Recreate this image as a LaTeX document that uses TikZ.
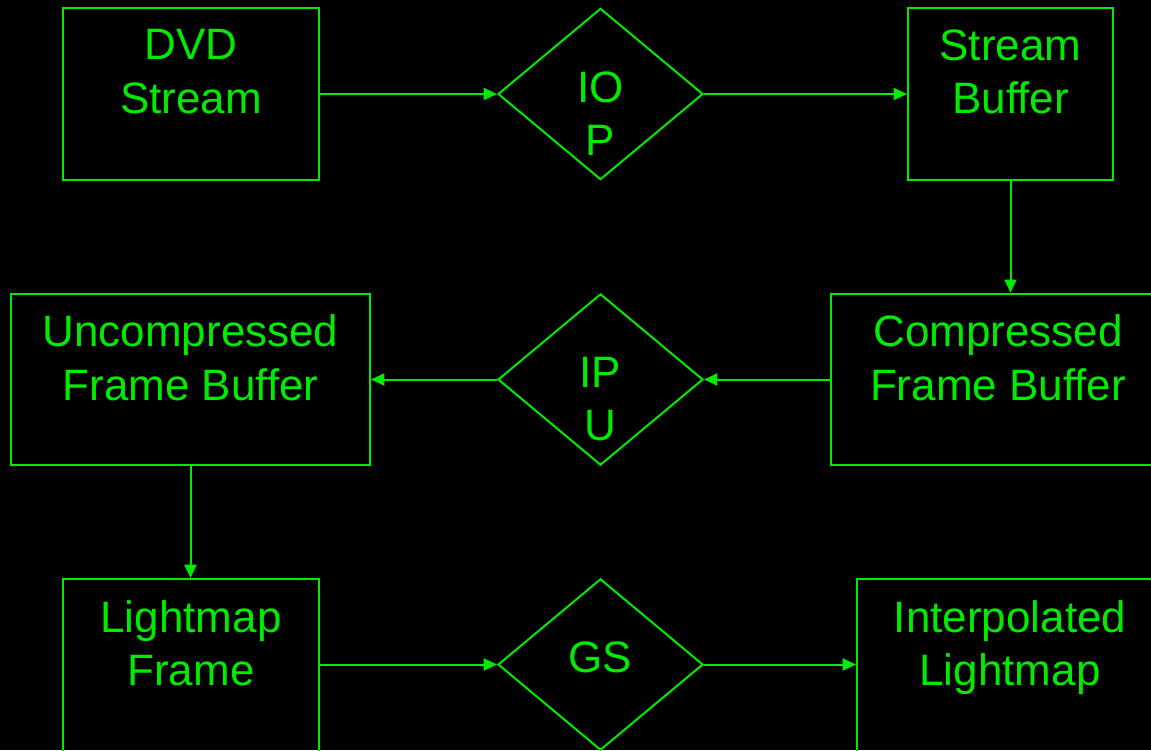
\documentclass[tikz,border=0pt]{standalone}
\usepackage{fontspec}
\setmainfont{Liberation Sans}
\usepackage{xcolor}
\usetikzlibrary{arrows.meta, positioning, shapes.geometric}
\definecolor{termgreen}{RGB}{0,235,0}

\begin{document}
\begin{tikzpicture}[x=0.75pt, y=-0.75pt,
    every node/.style={font=\fontsize{33}{40}\selectfont, text=termgreen},
    unitbox/.style={draw=termgreen, line width=1.5pt, rectangle, inner sep=0pt, minimum height=128.5pt},
    stage/.style={draw=termgreen, line width=1.5pt, diamond, inner sep=0pt, minimum width=153.75pt, minimum height=128.5pt},
    toptext/.style={label={[anchor=north, inner sep=0pt, align=center, yshift=-16.5pt]north:{#1}}},
    stagetext/.style={label={[anchor=north, inner sep=0pt, align=center, yshift=-48pt]north:{#1}}},
    flow/.style={draw=termgreen, line width=1.5pt, -{Triangle[length=10pt, width=9pt]}}]
    % Background and frame
    \useasboundingbox (0,0) rectangle (1151,750);
    \fill[black] (0,0) rectangle (1151,750);
    \clip (0,0) rectangle (1151,750);

    % Top row
    \node[unitbox, minimum width=192pt, toptext={DVD\\Stream}] (dvd) at (191,94) {};
    \node[stage, stagetext={IO\\P}] (iop) at (600.5,94) {};
    \node[unitbox, minimum width=153.75pt, toptext={Stream\\Buffer}] (sbuf) at (1010.5,94) {};

    % Middle row
    \node[unitbox, minimum width=269.25pt, toptext={Uncompressed\\Frame Buffer}] (ucfb) at (190.5,379.5) {};
    \node[stage, stagetext={IP\\U}] (ipu) at (600.5,379.5) {};
    \node[unitbox, minimum width=250.5pt, toptext={Compressed\\Frame Buffer}] (cfb) at (998,379.5) {};

    % Bottom row (runs off the lower edge)
    \node[unitbox, minimum width=192pt, minimum height=130.5pt, toptext={Lightmap\\Frame}] (lmf) at (191,666) {};
    \node[stage, stagetext={GS}] (gs) at (600.5,664.5) {};
    \node[unitbox, minimum width=229.5pt, minimum height=130.5pt, toptext={Interpolated\\Lightmap}] (ilm) at (1010,666) {};

    % Data flow
    \draw[flow] (dvd) -- (iop);
    \draw[flow] (iop) -- (sbuf);
    \draw[flow] (sbuf.south) -- (sbuf.south |- cfb.north);
    \draw[flow] (cfb) -- (ipu);
    \draw[flow] (ipu) -- (ucfb);
    \draw[flow] (ucfb.south) -- (ucfb.south |- lmf.north);
    \draw[flow] (lmf.east |- gs) -- (gs);
    \draw[flow] (gs) -- (ilm.west |- gs);
\end{tikzpicture}
\end{document}
